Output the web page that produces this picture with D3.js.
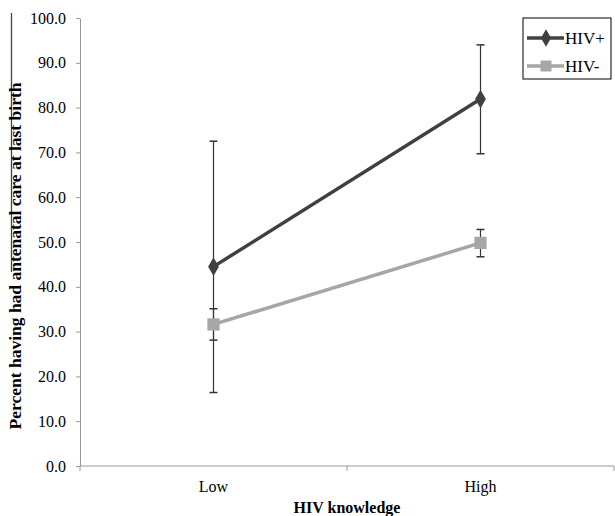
<!DOCTYPE html>
<html>
<head>
<meta charset="utf-8">
<script src="https://cdn.jsdelivr.net/npm/d3@7"></script>
<style>
  body { margin: 0; background: #fff; }
  svg text { font-family: "Liberation Serif", "DejaVu Serif", serif !important; }
</style>
</head>
<body>
<svg width="615" height="516"></svg>
<script>
// chart data
const categories = ['Low', 'High'];
const hivPos = [44.5, 81.9];
const hivPosLow = [16.4, 69.7];
const hivPosHigh = [72.5, 94.0];
const hivNeg = [31.6, 49.8];
const hivNegLow = [28.1, 46.7];
const hivNegHigh = [35.1, 52.8];
const yTicks = [0, 10, 20, 30, 40, 50, 60, 70, 80, 90, 100];

const svg = d3.select('svg');
const mLeft = 80, mRight = 614, mTop = 18, mBottom = 466;
const serif = '"Liberation Serif", serif';

const x = d3.scaleBand().domain(categories).range([mLeft, mRight]);
const y = d3.scaleLinear().domain([0, 100]).range([mBottom, mTop]);
const cx = d => x(d) + x.bandwidth() / 2;

// stray rule at the left edge of the scanned figure
svg.append('line')
  .attr('x1', 11.5).attr('x2', 11.5)
  .attr('y1', 13).attr('y2', 272)
  .attr('stroke', '#444').attr('stroke-width', 1.3);

// y axis
const yAxis = svg.append('g')
  .attr('transform', `translate(${mLeft},0)`)
  .call(d3.axisLeft(y).tickValues(yTicks).tickFormat(d3.format('.1f')).tickSize(4).tickSizeOuter(0));
yAxis.attr('font-family', serif).attr('font-size', 16);
yAxis.select('.domain').attr('stroke', '#999');
yAxis.selectAll('.tick line').attr('stroke', '#999');
yAxis.selectAll('.tick text')
  .attr('x', -14)
  .attr('fill', '#000');

// x axis
const xAxis = svg.append('g')
  .attr('transform', `translate(0,${mBottom})`)
  .attr('font-family', serif);
xAxis.append('line')
  .attr('x1', mLeft).attr('x2', mRight)
  .attr('stroke', '#999');
xAxis.selectAll('.xt')
  .data([mLeft, mLeft + x.bandwidth(), mRight])
  .enter().append('line')
  .attr('x1', d => d).attr('x2', d => d)
  .attr('y1', 0).attr('y2', 5)
  .attr('stroke', '#999');
xAxis.selectAll('.xl')
  .data(categories)
  .enter().append('text')
  .attr('x', d => cx(d))
  .attr('y', 26)
  .attr('text-anchor', 'middle')
  .attr('font-size', 16)
  .text(d => d);

// axis titles
svg.append('text')
  .attr('x', (mLeft + mRight) / 2)
  .attr('y', 513)
  .attr('text-anchor', 'middle')
  .attr('font-family', serif)
  .attr('font-size', 16)
  .attr('font-weight', 'bold')
  .text('HIV knowledge');

svg.append('text')
  .attr('transform', 'translate(21,256) rotate(-90)')
  .attr('text-anchor', 'middle')
  .attr('font-family', serif)
  .attr('font-size', 17.5)
  .attr('font-weight', 'bold')
  .text('Percent having had antenatal care at last birth');

const series = [
  { name: 'HIV+', values: hivPos, lo: hivPosLow, hi: hivPosHigh, color: '#404040', shape: 'diamond' },
  { name: 'HIV-', values: hivNeg, lo: hivNegLow, hi: hivNegHigh, color: '#a6a6a6', shape: 'square' }
];

const line = d3.line().x((d, i) => cx(categories[i])).y(d => y(d));

series.forEach(s => {
  // error bars
  const eb = svg.append('g');
  categories.forEach((c, i) => {
    eb.append('line')
      .attr('x1', cx(c)).attr('x2', cx(c))
      .attr('y1', y(s.lo[i])).attr('y2', y(s.hi[i]))
      .attr('stroke', '#333').attr('stroke-width', 1.2);
    [s.lo[i], s.hi[i]].forEach(v => {
      eb.append('line')
        .attr('x1', cx(c) - 4).attr('x2', cx(c) + 4)
        .attr('y1', y(v)).attr('y2', y(v))
        .attr('stroke', '#333').attr('stroke-width', 1.5);
    });
  });
});

series.forEach(s => {
  svg.append('path')
    .datum(s.values)
    .attr('d', line)
    .attr('fill', 'none')
    .attr('stroke', s.color)
    .attr('stroke-width', 3.5);

  const sym = d3.symbol()
    .type(s.shape === 'diamond' ? d3.symbolDiamond : d3.symbolSquare)
    .size(s.shape === 'diamond' ? 100 : 150);
  svg.selectAll(null)
    .data(s.values)
    .enter().append('path')
    .attr('d', sym)
    .attr('transform', (d, i) => `translate(${cx(categories[i])},${y(d)})`)
    .attr('fill', s.color);
});

// legend
const lg = svg.append('g').attr('font-family', serif);
lg.append('rect')
  .attr('x', 523).attr('y', 18)
  .attr('width', 88).attr('height', 61)
  .attr('fill', '#fff')
  .attr('stroke', '#000')
  .attr('stroke-width', 1);
series.forEach((s, i) => {
  const ly = 38 + i * 28;
  lg.append('line')
    .attr('x1', 527).attr('x2', 564)
    .attr('y1', ly).attr('y2', ly)
    .attr('stroke', s.color).attr('stroke-width', 3.5);
  const sym = d3.symbol()
    .type(s.shape === 'diamond' ? d3.symbolDiamond : d3.symbolSquare)
    .size(s.shape === 'diamond' ? 90 : 120);
  lg.append('path')
    .attr('d', sym)
    .attr('transform', `translate(546,${ly})`)
    .attr('fill', s.color);
  lg.append('text')
    .attr('x', 565).attr('y', ly + 6)
    .attr('font-size', 17)
    .text(s.name);
});
</script>
</body>
</html>
